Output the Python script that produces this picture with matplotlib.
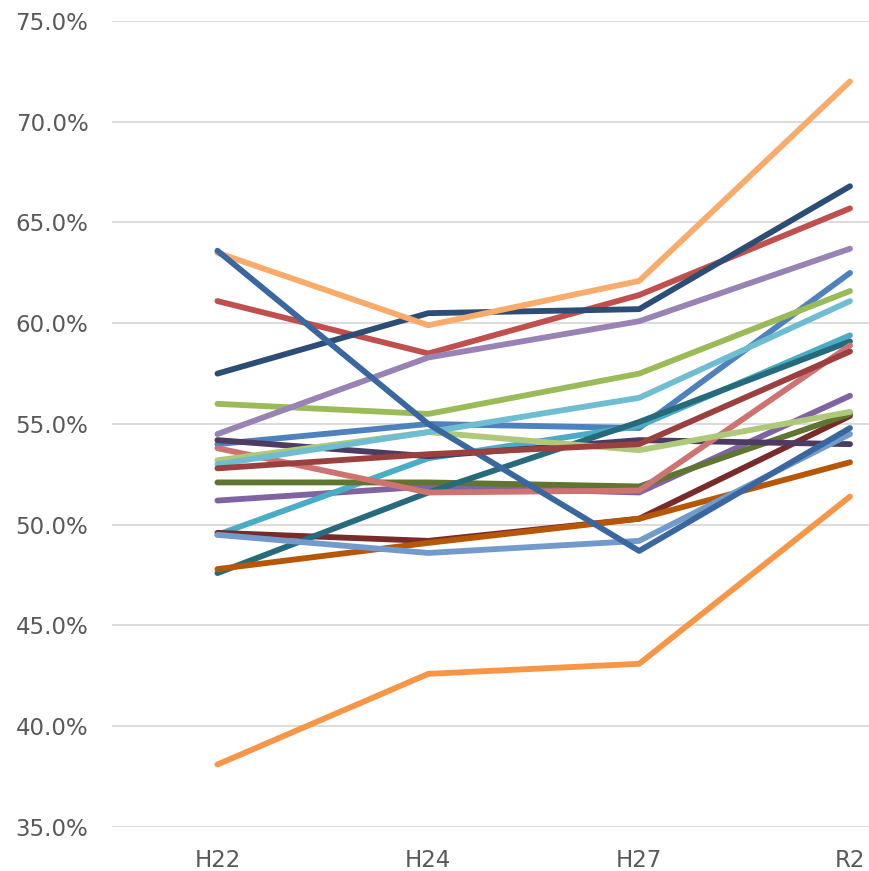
import matplotlib.pyplot as plt
from matplotlib.ticker import FuncFormatter

years = ["H22", "H24", "H27", "R2"]

s01 = [54.0, 55.0, 54.8, 62.5]
s02 = [61.1, 58.5, 61.4, 65.7]
s03 = [56.0, 55.5, 57.5, 61.6]
s04 = [51.2, 51.9, 51.6, 56.4]
s05 = [49.5, 53.3, 54.9, 59.4]
s06 = [38.1, 42.6, 43.1, 51.4]
s07 = [57.5, 60.5, 60.7, 66.8]
s08 = [49.6, 49.2, 50.3, 55.4]
s09 = [52.1, 52.1, 51.9, 55.5]
s10 = [54.2, 53.4, 54.2, 54.0]
s11 = [47.6, 51.6, 55.1, 59.1]
s12 = [47.8, 49.1, 50.3, 53.1]
s13 = [49.5, 48.6, 49.2, 54.5]
s14 = [53.8, 51.6, 51.7, 58.9]
s15 = [53.2, 54.6, 53.7, 55.6]
s16 = [54.5, 58.3, 60.1, 63.7]
s17 = [53.0, 54.6, 56.3, 61.1]
s18 = [63.5, 59.9, 62.1, 72.0]
s19 = [63.6, 55.0, 48.7, 54.8]
s20 = [52.8, 53.5, 54.0, 58.6]

series = [s01, s02, s03, s04, s05, s06, s07, s08, s09, s10,
          s11, s12, s13, s14, s15, s16, s17, s18, s19, s20]
colors = ["#4F81BD", "#C0504D", "#9BBB59", "#8064A2", "#4BACC6", "#F79646",
          "#2C4D75", "#772C2A", "#5F7530", "#4D3B62", "#276A7C", "#B65708",
          "#729ACA", "#CD7371", "#AFC97A", "#9983B5", "#6FBDD1", "#F9AB6B",
          "#3A67A0", "#9A403E"]

fig = plt.figure(figsize=(8.7, 8.71), dpi=100)
ax = fig.add_axes([112 / 870, 1 - 827 / 871, 758 / 870, 806 / 871])

x = range(len(years))
for vals, c in zip(series, colors):
    ax.plot(x, vals, color=c, lw=4.2, solid_capstyle="round", solid_joinstyle="round")

ax.set_ylim(35, 75)
ax.set_xlim(-0.5, 3 + 20 / 211)
ax.set_yticks(range(35, 76, 5))
ax.yaxis.set_major_formatter(FuncFormatter(lambda v, p: f"{v:.1f}%"))
ax.set_xticks(list(x))
ax.set_xticklabels(years)
ax.grid(axis="y", color="#D9D9D9", lw=1.3)
ax.set_axisbelow(True)
for sp in ax.spines.values():
    sp.set_visible(False)
ax.tick_params(length=0, labelsize=16.5, colors="#595959", pad=16)
ax.tick_params(axis="y", pad=17)

fig.savefig("out.png", dpi=100)
